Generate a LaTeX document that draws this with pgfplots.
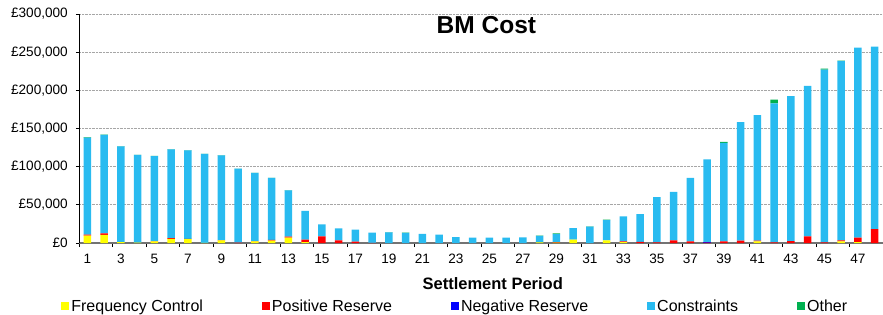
\documentclass[border=0pt]{standalone}
\usepackage{pgfplots}
\pgfplotsset{compat=1.18}
\usepackage{pgfplotstable}
\usepackage{fontspec}
\setmainfont{Liberation Sans}
\definecolor{fcc}{RGB}{255,255,0}
\definecolor{prc}{RGB}{255,0,0}
\definecolor{nrc}{RGB}{0,0,255}
\definecolor{conc}{RGB}{41,187,240}
\definecolor{othc}{RGB}{0,176,80}

\pgfplotstableread{
p fc pr nr con oth
1 9600 1300 0 127300 500
2 10500 2200 0 128800 500
3 1000 0 0 125500 500
4 500 0 0 114800 200
5 2000 300 0 111500 200
6 5500 1000 0 116300 200
7 5000 300 0 116100 200
8 300 0 0 116300 200
9 3500 300 0 111000 200
10 0 600 0 96800 200
11 2000 600 0 89200 200
12 3000 1000 0 81200 200
13 7000 1500 0 60300 500
14 1000 3500 0 37500 0
15 0 8600 0 15700 0
16 0 3400 0 15700 0
17 0 1700 0 15700 0
18 0 300 0 13200 0
19 0 0 0 14000 400
20 0 0 0 13300 200
21 0 0 0 11800 0
22 0 0 0 10900 0
23 0 0 0 7800 0
24 0 0 0 6900 0
25 0 0 0 6900 0
26 0 0 0 6900 0
27 0 0 0 7300 0
28 700 0 0 8600 300
29 500 700 0 10400 1000
30 4300 0 0 15300 0
31 0 0 0 21500 300
32 3500 0 0 26400 600
33 1000 1000 0 32800 0
34 0 1500 0 36400 0
35 0 700 0 59500 0
36 0 3500 0 63600 0
37 0 2000 0 83400 0
38 0 500 1000 107900 0
39 0 2000 0 129200 1300
40 0 3000 0 155300 0
41 2000 1000 0 164400 0
42 0 700 0 182300 4800
43 0 2500 0 189800 0
44 0 8700 0 197000 0
45 0 700 0 226400 1300
46 2000 1300 0 235000 500
47 1000 6000 0 248800 0
48 0 18300 0 238900 0
}\bmdata

\begin{document}
\begin{tikzpicture}
\path[use as bounding box] (-79pt,-71pt) rectangle (804pt,243pt);
\begin{axis}[
  at={(0pt,0pt)}, anchor=south west,
  width=804pt, height=229pt, scale only axis,
  ybar stacked, bar width=7.5pt,
  xmin=0.5, xmax=48.5, ymin=0, ymax=300000,
  enlargelimits=false,
  axis lines=left, axis line style={-},
  x axis line style={draw=black!55, line width=1.4pt},
  y axis line style={draw=black, line width=0.8pt},
  tick align=outside,
  xtick={1,3,...,47},
  major x tick style={draw=none},
  minor xtick={0.5,2.5,...,48.5},
  minor x tick style={draw=black, line width=0.8pt},
  minor tick length=4pt,
  major tick length=3pt,
  ytick={0,50000,...,300000},
  yticklabels={£0,{£50,000},{£100,000},{£150,000},{£200,000},{£250,000},{£300,000}},
  scaled y ticks=false,
  y tick style={draw=black, line width=0.8pt},
  ymajorgrids,
  major grid style={densely dotted, draw=black!35, line width=0.8pt},
  /pgf/number format/assume math mode=true,
  tick label style={font=\fontsize{13.6}{16}\selectfont, text=black},
  yticklabel style={anchor=east, inner sep=0pt, xshift=-8pt},
  xticklabel style={inner sep=0pt, yshift=-8pt},
  xlabel={Settlement Period},
  xlabel style={at={(axis description cs:0.5146,-0.2022)}, anchor=base, font=\bfseries\fontsize{16.5}{18}\selectfont},
  legend columns=5,
  legend image code/.code={\fill[#1] (0pt,-4pt) rectangle (8pt,4pt);},
  legend style={at={(axis description cs:0.468,-0.275)}, anchor=center, draw=none, fill=none,
    font=\fontsize{16}{18}\selectfont,
    /tikz/every even column/.append style={column sep=57pt}},
]
\addplot[fill=fcc, draw=none] table[x=p, y=fc]{\bmdata};
\addlegendentry{Frequency Control}
\addplot[fill=prc, draw=none] table[x=p, y=pr]{\bmdata};
\addlegendentry{Positive Reserve}
\addplot[fill=nrc, draw=none] table[x=p, y=nr]{\bmdata};
\addlegendentry{Negative Reserve}
\addplot[fill=conc, draw=none] table[x=p, y=con]{\bmdata};
\addlegendentry{Constraints}
\addplot[fill=othc, draw=none] table[x=p, y=oth]{\bmdata};
\addlegendentry{Other}
\node[anchor=base, font=\bfseries\fontsize{24.5}{28}\selectfont] at (axis description cs:0.5067,0.9157) {BM Cost};
\end{axis}
\end{tikzpicture}
\end{document}
